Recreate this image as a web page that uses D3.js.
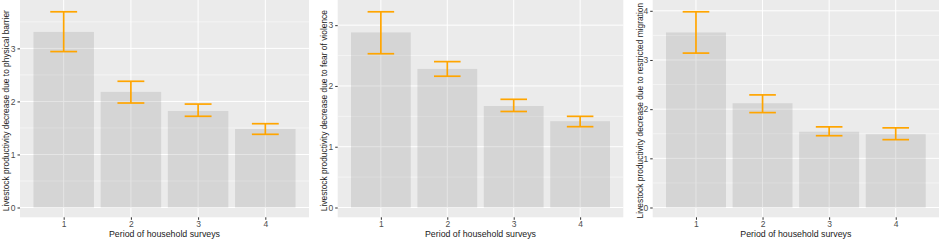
<!DOCTYPE html>
<html>
<head>
<meta charset="utf-8">
<script src="https://cdn.jsdelivr.net/npm/d3@7"></script>
<style>
  body { margin: 0; background: #fff; }
  svg { display: block; }
</style>
</head>
<body>
<div id="chart"></div>
<script>
// survey periods (x categories)
let periods = ["1", "2", "3", "4"];

// panel 1: physical barrier
let barrierMean = [3.31, 2.18, 1.82, 1.48];
let barrierLow = [2.94, 1.97, 1.72, 1.38];
let barrierHigh = [3.69, 2.38, 1.95, 1.58];

// panel 2: fear of violence
let violenceMean = [2.88, 2.28, 1.67, 1.42];
let violenceLow = [2.53, 2.16, 1.58, 1.33];
let violenceHigh = [3.22, 2.40, 1.78, 1.50];

// panel 3: restricted migration
let migrationMean = [3.56, 2.12, 1.54, 1.49];
let migrationLow = [3.14, 1.93, 1.46, 1.38];
let migrationHigh = [3.98, 2.29, 1.64, 1.62];

let yTitles = [
    "Livestock productivity decrease due to physical barrier",
    "Livestock productivity decrease due to fear of violence",
    "Livestock productivity decrease due to restricted migration"
];
let xTitle = "Period of household surveys";

let panels = [
    { mean: barrierMean, low: barrierLow, high: barrierHigh, title: yTitles[0], left: 20, right: 309, titleX: 8.5 },
    { mean: violenceMean, low: violenceLow, high: violenceHigh, title: yTitles[1], left: 337.7, right: 623.3, titleX: 327 },
    { mean: migrationMean, low: migrationLow, high: migrationHigh, title: yTitles[2], left: 652.7, right: 939, titleX: 643 }
];

let width = 941, height = 240;
let panelTop = 2, panelBottom = 217.3;

let svg = d3.select("#chart")
    .append("svg")
    .attr("width", width)
    .attr("height", height)
    .attr("viewBox", [0, 0, width, height])
    .attr("font-family", "'Liberation Sans', Arial, sans-serif");

panels.forEach(p => {
    let rows = periods.map((d, i) => ({ period: d, idx: i + 1, mean: p.mean[i], low: p.low[i], high: p.high[i] }));

    // discrete x, ggplot style expansion
    let x = d3.scaleLinear()
        .domain([0.35, periods.length + 0.65])
        .range([p.left, p.right]);

    let yMax = d3.max(rows, d => d.high);
    let y = d3.scaleLinear()
        .domain([-0.05 * yMax, yMax * 1.05])
        .range([panelBottom, panelTop]);

    let g = svg.append("g");

    // panel background
    g.append("rect")
        .attr("x", p.left)
        .attr("y", 0)
        .attr("width", p.right - p.left)
        .attr("height", panelBottom)
        .attr("fill", "#ebebeb");

    let majors = d3.range(0, Math.floor(y.domain()[1]) + 1);
    let minors = majors.map(d => d + 0.5).filter(d => d < y.domain()[1]);

    g.append("g")
        .selectAll("line")
        .data(minors)
        .join("line")
        .attr("x1", p.left).attr("x2", p.right)
        .attr("y1", d => y(d)).attr("y2", d => y(d))
        .attr("stroke", "#fff")
        .attr("stroke-width", 0.5);

    g.append("g")
        .selectAll("line")
        .data(majors)
        .join("line")
        .attr("x1", p.left).attr("x2", p.right)
        .attr("y1", d => y(d)).attr("y2", d => y(d))
        .attr("stroke", "#fff")
        .attr("stroke-width", 1);

    g.append("g")
        .selectAll("line")
        .data(rows)
        .join("line")
        .attr("x1", d => x(d.idx)).attr("x2", d => x(d.idx))
        .attr("y1", 0).attr("y2", panelBottom)
        .attr("stroke", "#fff")
        .attr("stroke-width", 1);

    // bars (semi transparent so grid shows through)
    let barW = 0.9;
    g.append("g")
        .selectAll("rect")
        .data(rows)
        .join("rect")
        .attr("x", d => x(d.idx - barW / 2))
        .attr("width", d => x(d.idx + barW / 2) - x(d.idx - barW / 2))
        .attr("y", d => y(d.mean))
        .attr("height", d => y(0) - y(d.mean))
        .attr("fill", "#7f7f7f")
        .attr("fill-opacity", 0.2);

    // error bars
    let capW = 0.4;
    let eb = g.append("g")
        .attr("stroke", "#ffa500")
        .attr("stroke-width", 1.7)
        .selectAll("g")
        .data(rows)
        .join("g");
    eb.append("line")
        .attr("x1", d => x(d.idx)).attr("x2", d => x(d.idx))
        .attr("y1", d => y(d.low)).attr("y2", d => y(d.high));
    eb.append("line")
        .attr("x1", d => x(d.idx - capW / 2)).attr("x2", d => x(d.idx + capW / 2))
        .attr("y1", d => y(d.high)).attr("y2", d => y(d.high));
    eb.append("line")
        .attr("x1", d => x(d.idx - capW / 2)).attr("x2", d => x(d.idx + capW / 2))
        .attr("y1", d => y(d.low)).attr("y2", d => y(d.low));

    // y axis
    let yAxis = g.append("g")
        .attr("transform", `translate(${p.left},0)`)
        .call(d3.axisLeft(y).tickValues(majors).tickFormat(d3.format("d")).tickSize(2.5).tickPadding(2));
    yAxis.select(".domain").remove();
    yAxis.selectAll("line").attr("stroke", "#333");
    yAxis.selectAll("text").attr("fill", "#4d4d4d").attr("font-size", 8.5).attr("font-family", null);

    // x axis
    let xAxis = g.append("g")
        .attr("transform", `translate(0,${panelBottom})`)
        .call(d3.axisBottom(x).tickValues(rows.map(d => d.idx)).tickFormat((d, i) => periods[i]).tickSize(2.5).tickPadding(1.5));
    xAxis.select(".domain").remove();
    xAxis.selectAll("line").attr("stroke", "#333");
    xAxis.selectAll("text").attr("fill", "#4d4d4d").attr("font-size", 8.5).attr("font-family", null);

    // titles
    g.append("text")
        .attr("x", (p.left + p.right) / 2)
        .attr("y", 236.5)
        .attr("text-anchor", "middle")
        .attr("font-size", 8.8)
        .attr("fill", "#1a1a1a")
        .text(xTitle);

    g.append("text")
        .attr("transform", `translate(${p.titleX},${(panelTop + panelBottom) / 2 + 1}) rotate(-90)`)
        .attr("text-anchor", "middle")
        .attr("font-size", 8.4)
        .attr("fill", "#1a1a1a")
        .text(p.title);
});
</script>
</body>
</html>
